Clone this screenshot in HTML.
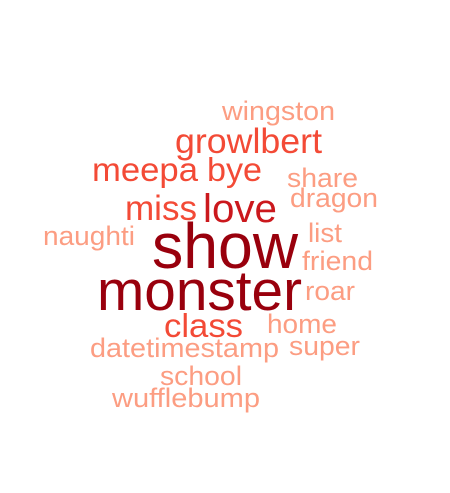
<!DOCTYPE html>
<html><head><meta charset="utf-8"><style>
html,body{margin:0;padding:0;background:#fff;width:450px;height:493px;overflow:hidden}
svg text{font-family:"Liberation Sans",Arial,sans-serif}
</style></head><body>
<svg id="cloud" width="450" height="493"></svg>
<script>
const words = ["show","monster","love","growlbert","meepa","bye","miss","class","wingston","share","dragon","naughti","list","friend","roar","home","datetimestamp","super","school","wufflebump"];
const freqs = [10,10,7,5,5,5,5,5,2,2,2,2,2,2,2,2,2,2,2,2];
// layout: [left, right, baseline, fontSize]
const layout = [
 [152,298,268,64],[97,302,310,57],[203,277,222,40],[175,322,153,35],
 [92,198,181,33],[207,262,181,33],[125,197,220,35],[164,243,337,33],
 [222,335,120,27],[287,358,187,27],[290,378,207,27],[43,135,245,27],
 [308,342,242,27],[302,373,270,27],[305,355,300,27],[267,337,333,27],
 [90,279,357,27],[289,360,355,27],[160,242,385,27],[112,260,407,27]
];
function color(f){ if(f>=10) return "#99000D"; if(f>=7) return "#CB181D"; if(f>=5) return "#F34A36"; return "#FC9D82"; }
const svg=document.getElementById('cloud');
words.forEach((w,i)=>{
  const [l,r,b,fs]=layout[i];
  const t=document.createElementNS("http://www.w3.org/2000/svg","text");
  t.setAttribute('x',l); t.setAttribute('y',b);
  t.setAttribute('font-size',fs);
  t.setAttribute('textLength',r-l);
  t.setAttribute('lengthAdjust','spacingAndGlyphs');
  t.setAttribute('fill',color(freqs[i]));
  t.textContent=w;
  
  
  svg.appendChild(t);
});
</script>
</body></html>
